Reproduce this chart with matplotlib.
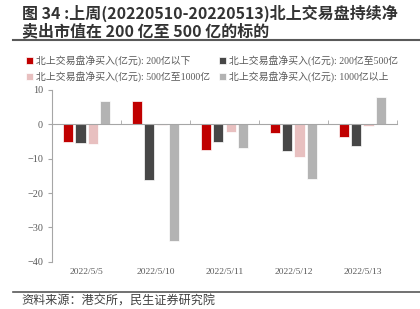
import matplotlib.pyplot as plt
import matplotlib.transforms as mtransforms
import numpy as np

plt.rcParams['font.family'] = ['Noto Sans CJK SC', 'DejaVu Sans']

dates = ['2022/5/5', '2022/5/10', '2022/5/11', '2022/5/12', '2022/5/13']
series_names = ['北上交易盘净买入(亿元): 200亿以下',
                '北上交易盘净买入(亿元): 200亿至500亿',
                '北上交易盘净买入(亿元): 500亿至1000亿',
                '北上交易盘净买入(亿元): 1000亿以上']
below_200 = [-5.2, 6.9, -7.6, -2.6, -3.8]
from_200_500 = [-5.5, -16.2, -5.1, -7.7, -6.3]
from_500_1000 = [-5.8, -0.2, -2.3, -9.5, -0.6]
above_1000 = [6.7, -33.9, -6.8, -15.8, 7.8]
colors = ['#C00000', '#474747', '#E8C0C0', '#B3B3B3']

fig = plt.figure(figsize=(4.2, 3.09), dpi=100)
ax = fig.add_axes([0.124, 0.153, 0.821, 0.556])

x = np.arange(len(dates))
offsets = [-0.27, -0.09, 0.09, 0.27]
serif = ['Liberation Serif', 'Noto Sans CJK SC']
bars = []
for vals, off, c, name in zip([below_200, from_200_500, from_500_1000, above_1000],
                              offsets, colors, series_names):
    bars.append(ax.bar(x + off, vals, width=0.15, color=c, edgecolor='white',
                       linewidth=0.5, label=name))

ax.set_xlim(-0.5, 4.5)
ax.set_ylim(-40, 10)
ax.set_yticks(range(-40, 11, 10))
for s in ['top', 'right']:
    ax.spines[s].set_visible(False)
ax.spines['left'].set_color('#A6A6A6')
ax.spines['bottom'].set_color('#A6A6A6')
ax.spines['bottom'].set_position(('data', 0))
ax.set_xticks([])
ax.set_xticks(np.arange(-0.5, 4.6, 1), minor=True)
ax.tick_params(axis='x', which='minor', direction='in', length=3, color='#A6A6A6')
ax.tick_params(axis='y', length=3, color='#A6A6A6', labelcolor='#595959', labelsize=7.3)
for lab in ax.get_yticklabels():
    lab.set_family(serif)

trans = mtransforms.blended_transform_factory(ax.transData, ax.transAxes)
for xi, d in zip(x, dates):
    ax.text(xi, -0.035, d, transform=trans, ha='center', va='top',
            fontsize=6.8, color='#595959', family=serif)

# row-wise legend order
order = [0, 2, 1, 3]
leg = fig.legend([bars[i] for i in order], [series_names[i] for i in order],
                 loc='upper left', bbox_to_anchor=(0.052, 0.835), ncol=2,
                 frameon=False, handlelength=0.7, handleheight=0.7,
                 handletextpad=0.3, columnspacing=0.9, labelspacing=0.55,
                 borderaxespad=0, prop={'family': serif, 'size': 7.1})
for t in leg.get_texts():
    t.set_color('#595959')

fig.text(0.052, 0.957, '图 34 :上周(20220510-20220513)北上交易盘持续净', fontsize=11.5,
         fontweight='bold', color='#333333', va='center')
fig.text(0.052, 0.9, '卖出市值在 200 亿至 500 亿的标的', fontsize=11.5,
         fontweight='bold', color='#333333', va='center')
fig.add_artist(plt.Line2D([0.03, 1.0], [0.871, 0.871], color='#595959', linewidth=1.5))
fig.add_artist(plt.Line2D([0.03, 1.0], [0.055, 0.055], color='#595959', linewidth=1.2))
fig.text(0.052, 0.027, '资料来源：港交所，民生证券研究院', fontsize=8.7, color='#404040', va='center')

plt.savefig('out.png', dpi=100)
